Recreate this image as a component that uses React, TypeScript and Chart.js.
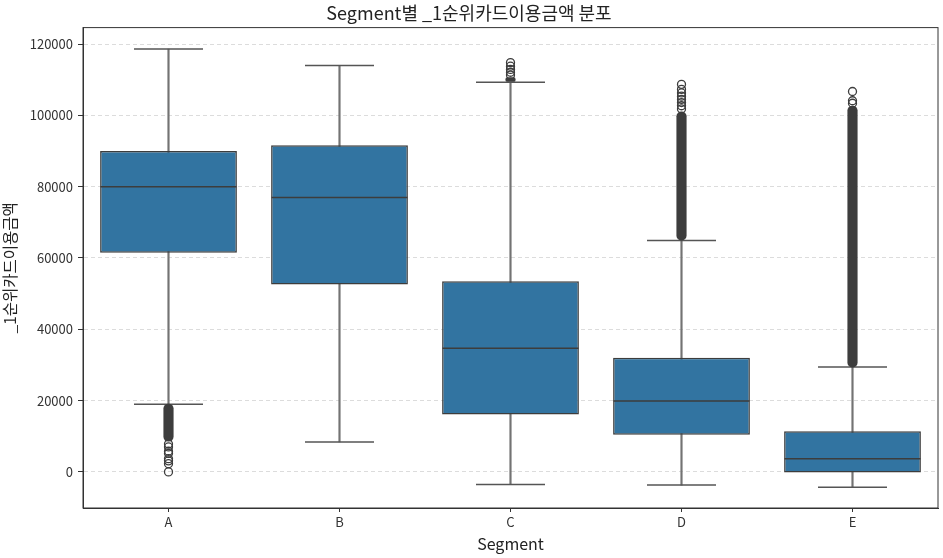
import React, { useEffect, useRef } from 'react';
import { Chart, registerables } from 'chart.js';

Chart.register(...registerables);

const FONT = "'Noto Sans CJK KR', 'Noto Sans', sans-serif";

const segments = ['A', 'B', 'C', 'D', 'E'];

// box statistics
const q1 = [61500, 52600, 16100, 10400, -200];
const medians = [80000, 77000, 34700, 19900, 3700];
const q3 = [90000, 91600, 53500, 32000, 11400];
const whiskerLow = [19000, 8400, -3500, -3700, -4300];
const whiskerHigh = [118600, 114000, 109300, 64900, 29400];

// outliers so dense that they merge into a solid column
const denseLow = [8600, null, 109500, 65000, 29400];
const denseHigh = [19000, null, 110600, 101000, 102600];

// single outliers that stay readable
const outliersA = [0, 2300, 3100, 3700, 5200, 5800, 7000, 7800];
const outliersC = [111300, 112100, 112900, 113800, 114800];
const outliersD = [101800, 102700, 103600, 104500, 105400, 106300, 107300, 108700];
const outliersE = [103400, 104100, 106700];

const yTicks = [0, 20000, 40000, 60000, 80000, 100000, 120000];
const yMin = -10125;
const yMax = 124625;

const BOX_BLUE = '#3274a1';
const LINE_DARK = '#3d3d3d';

const framePlugin = {
  id: 'frame',
  afterDraw(chart: Chart) {
    const { ctx, chartArea } = chart;
    ctx.save();
    ctx.strokeStyle = '#333';
    ctx.lineWidth = 1;
    ctx.strokeRect(chartArea.left, chartArea.top, chartArea.right - chartArea.left, chartArea.bottom - chartArea.top);
    ctx.restore();
  },
};

const App: React.FC = () => {
  const chartRef = useRef<HTMLCanvasElement | null>(null);

  useEffect(() => {
    const canvas = chartRef.current;
    if (!canvas) return;

    const outlierPoints = [
      ...outliersA.map((y) => ({ x: 'A', y })),
      ...outliersC.map((y) => ({ x: 'C', y })),
      ...outliersD.map((y) => ({ x: 'D', y })),
      ...outliersE.map((y) => ({ x: 'E', y })),
    ];
    const capPoints = segments.flatMap((s, i) => [
      { x: s, y: whiskerLow[i] },
      { x: s, y: whiskerHigh[i] },
    ]);
    const medianPoints = segments.map((s, i) => ({ x: s, y: medians[i] }));

    const chart = new Chart(canvas, {
      type: 'bar',
      data: {
        labels: segments,
        datasets: [
          {
            label: 'whisker',
            data: segments.map((_, i) => [whiskerLow[i], whiskerHigh[i]]),
            backgroundColor: '#737373',
            barThickness: 1.5,
            grouped: false,
            order: 5,
          },
          {
            label: 'box',
            data: segments.map((_, i) => [q1[i], q3[i]]),
            backgroundColor: BOX_BLUE,
            borderColor: LINE_DARK,
            borderWidth: 1.5,
            borderSkipped: false,
            categoryPercentage: 1,
            barPercentage: 0.8,
            grouped: false,
            order: 4,
          },
          {
            type: 'line',
            label: 'median',
            data: medianPoints,
            showLine: false,
            pointStyle: 'line',
            pointRadius: 68,
            borderColor: LINE_DARK,
            borderWidth: 1.5,
            order: 3,
          },
          {
            type: 'line',
            label: 'caps',
            data: capPoints,
            showLine: false,
            pointStyle: 'line',
            pointRadius: 34.5,
            borderColor: '#555',
            borderWidth: 1.5,
            order: 2,
          },
          {
            label: 'dense outliers',
            data: segments.map((_, i) => (denseLow[i] === null ? null : [denseLow[i], denseHigh[i]])),
            backgroundColor: LINE_DARK,
            barThickness: 9.5,
            borderRadius: 5,
            borderSkipped: false,
            grouped: false,
            order: 1,
          },
          {
            type: 'line',
            label: 'outliers',
            data: outlierPoints,
            showLine: false,
            pointStyle: 'circle',
            pointRadius: 4,
            borderColor: LINE_DARK,
            borderWidth: 1.3,
            backgroundColor: 'rgba(0,0,0,0)',
            order: 0,
          },
        ] as any,
      },
      options: {
        responsive: true,
        maintainAspectRatio: false,
        animation: false,
        layout: { autoPadding: false, padding: { left: 0, right: 5, top: 0, bottom: 0 } },
        plugins: {
          legend: { display: false },
          tooltip: { enabled: false },
          title: {
            display: true,
            text: 'Segment별 _1순위카드이용금액 분포',
            color: '#222',
            font: { family: FONT, size: 18, weight: 'normal' },
            padding: { top: 2, bottom: 4 },
          },
        },
        scales: {
          x: {
            offset: true,
            afterFit: (scale: any) => {
              scale.height = 50;
            },
            grid: {
              drawOnChartArea: false,
              drawTicks: true,
              offset: false,
              tickLength: 4,
              tickColor: '#333',
            },
            border: { color: '#333', width: 1 },
            ticks: { color: '#333', font: { family: FONT, size: 13 }, padding: 2 },
            title: {
              display: true,
              text: 'Segment',
              color: '#222',
              font: { family: FONT, size: 16 },
              padding: { top: 0, bottom: 4 },
            },
          },
          y: {
            min: yMin,
            max: yMax,
            afterFit: (scale: any) => {
              scale.width = 83;
            },
            afterBuildTicks: (scale: any) => {
              scale.ticks = yTicks.map((value) => ({ value }));
            },
            grid: {
              color: '#dcdcdc',
              lineWidth: 1,
              tickLength: 5,
              tickColor: '#333',
              tickBorderDash: [],
            },
            border: { color: '#333', width: 1, dash: [4, 3] },
            ticks: {
              color: '#333',
              font: { family: FONT, size: 13 },
              padding: 5,
              callback: (value: any) => String(value),
            },
            title: {
              display: true,
              text: '_1순위카드이용금액',
              color: '#222',
              font: { family: FONT, size: 15.5 },
              padding: { top: 1, bottom: 0 },
            },
          },
        },
      },
      plugins: [framePlugin],
    });

    return () => {
      chart.destroy();
    };
  }, []);

  return (
    <div style={{ position: 'fixed', left: 0, top: 0, width: 943, height: 558, background: '#fff' }}>
      <canvas ref={chartRef} />
    </div>
  );
};

export default App;
